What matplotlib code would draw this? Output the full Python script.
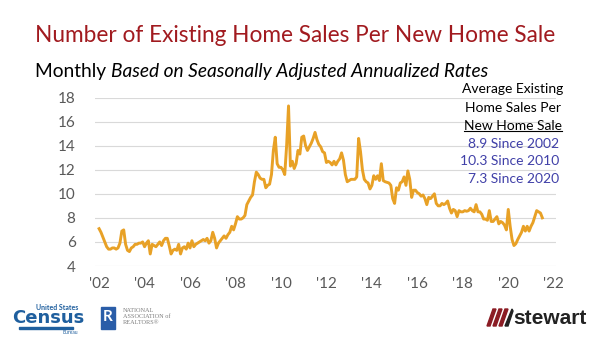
import numpy as np
import matplotlib.pyplot as plt
from matplotlib.patches import Rectangle, Polygon

# ratio of existing home sales to new home sales, monthly from Jan 2002
ratio_2002 = [7.1, 6.8, 6.4, 6.0, 5.6, 5.4, 5.4, 5.5, 5.5, 5.4, 5.5, 5.9]
ratio_2003 = [6.9, 7.0, 5.8, 5.3, 5.2, 5.5, 5.6, 5.8, 5.8, 5.9, 5.9, 6.0]
ratio_2004 = [5.6, 5.9, 6.1, 5.0, 5.8, 5.7, 5.6, 5.8, 6.0, 5.7, 6.1, 6.3]
ratio_2005 = [6.3, 5.7, 5.0, 5.3, 5.4, 5.3, 5.8, 5.0, 5.5, 5.6, 5.4, 5.9]
ratio_2006 = [5.5, 6.1, 5.6, 5.8, 5.9, 6.0, 6.1, 6.2, 6.1, 6.3, 5.9, 6.1]
ratio_2007 = [6.8, 6.3, 5.5, 5.9, 6.1, 6.3, 6.5, 6.3, 6.6, 6.8, 7.3, 7.0]
ratio_2008 = [7.5, 8.1, 7.9, 7.9, 8.0, 8.2, 9.1, 9.4, 9.7, 9.9, 11.0, 11.8]
ratio_2009 = [11.6, 11.3, 11.2, 11.2, 10.5, 10.7, 10.8, 11.6, 13.6, 14.7, 12.5, 12.2]
ratio_2010 = [12.2, 12.0, 11.6, 14.0, 17.3, 12.3, 12.7, 12.1, 12.5, 13.6, 13.3, 14.7]
ratio_2011 = [14.8, 14.0, 13.6, 13.9, 14.2, 14.6, 15.1, 14.5, 14.1, 13.9, 13.5, 13.4]
ratio_2012 = [12.6, 12.7, 12.6, 12.4, 12.7, 12.4, 12.7, 12.9, 13.4, 12.8, 11.6, 11.0]
ratio_2013 = [11.1, 11.2, 11.2, 11.2, 11.4, 14.6, 13.5, 12.0, 11.2, 11.0, 10.9, 10.4]
ratio_2014 = [10.7, 11.5, 11.2, 11.5, 11.1, 12.5, 11.1, 11.0, 10.95, 10.9, 10.7, 9.6]
ratio_2015 = [9.2, 10.5, 10.3, 10.9, 11.0, 11.4, 10.7, 11.9, 11.2, 9.7, 10.3, 10.3]
ratio_2016 = [10.1, 10.0, 9.8, 9.9, 9.6, 9.1, 9.7, 9.6, 9.8, 10.0, 9.2, 9.0]
ratio_2017 = [9.0, 9.2, 9.1, 9.2, 9.4, 8.8, 8.4, 8.7, 8.6, 8.1, 8.6, 8.5]
ratio_2018 = [8.5, 8.6, 8.55, 8.6, 8.8, 8.6, 8.5, 9.1, 8.5, 8.5, 8.3, 7.9]
ratio_2019 = [7.9, 7.8, 8.6, 7.7, 7.7, 7.9, 8.1, 7.5, 7.7, 7.6, 7.4, 7.0]
ratio_2020 = [8.7, 7.3, 6.2, 5.7, 5.85, 6.2, 6.5, 6.8, 7.3, 6.9, 7.3, 6.9]
ratio_2021 = [7.3, 7.6, 8.1, 8.6, 8.5, 8.4, 8.0]

ratio = (ratio_2002 + ratio_2003 + ratio_2004 + ratio_2005 + ratio_2006 + ratio_2007
         + ratio_2008 + ratio_2009 + ratio_2010 + ratio_2011 + ratio_2012 + ratio_2013
         + ratio_2014 + ratio_2015 + ratio_2016 + ratio_2017 + ratio_2018 + ratio_2019
         + ratio_2020 + ratio_2021)
months = 2002 + np.arange(len(ratio)) / 12.0

tick_years = [2002, 2004, 2006, 2008, 2010, 2012, 2014, 2016, 2018, 2020, 2022]
tick_labels = ["'02", "'04", "'06", "'08", "'10", "'12", "'14", "'16", "'18", "'20", "'22"]
y_ticks = [4, 6, 8, 10, 12, 14, 16, 18]

avg_labels = ["8.9 Since 2002", "10.3 Since 2010", "7.3 Since 2020"]

FONT = ['Lato', 'DejaVu Sans']
plt.rcParams['font.family'] = FONT

W, H = 600, 338
fig = plt.figure(figsize=(W / 100, H / 100), dpi=100)
fig.patch.set_facecolor('white')

def px(x, y):
    return x / W, 1 - y / H

# title block
fig.text(*px(35, 36), "Number of Existing Home Sales Per New Home Sale",
         color='#A11A1F', fontsize=16.3, va='center', ha='left')
t = fig.text(*px(35, 72), "Monthly ", color='black', fontsize=13.8, va='center', ha='left')
fig.canvas.draw()
bb = t.get_window_extent()
fig.text(bb.x1 / W, 1 - 72 / H, "Based on Seasonally Adjusted Annualized Rates",
         color='black', fontsize=13.8, style='italic', va='center', ha='left')

# main chart
ax = fig.add_axes([95 / W, 72 / H, (556 - 95) / W, (266 - 97.5) / H])
ax.plot(months, ratio, color='#E8A126', linewidth=2.1, solid_joinstyle='round')
ax.set_xlim(2001.82, 2022.1)
ax.set_ylim(4, 18)
ax.set_yticks(y_ticks)
ax.set_xticks(tick_years)
ax.set_xticklabels(tick_labels)
ax.grid(axis='y', color='#D9D9D9', linewidth=0.8)
ax.set_axisbelow(True)
for s in ax.spines.values():
    s.set_visible(False)
ax.tick_params(length=0, labelsize=11, labelcolor='#595959')
ax.tick_params(axis='y', pad=14)
ax.tick_params(axis='x', pad=8)

# averages box
fig.text(*px(513, 89), "Average Existing", fontsize=10, ha='center', va='center')
fig.text(*px(513, 108), "Home Sales Per", fontsize=10, ha='center', va='center')
u = fig.text(*px(513, 126), "New Home Sale", fontsize=10, ha='center', va='center')
fig.canvas.draw()
ub = u.get_window_extent()
fig.add_artist(plt.Line2D([ub.x0 / W, ub.x1 / W], [ub.y0 / H + 0.004] * 2,
                          color='black', linewidth=0.8))
for i, lab in enumerate(avg_labels):
    fig.text(*px(559, 144 + 17.5 * i), lab, fontsize=10, color='#4040A8',
             ha='right', va='center')

# source marks along the bottom
census_blue = '#1F5F9E'
fig.text(*px(78, 307), "United States", fontsize=5, color=census_blue,
         weight='bold', ha='right', va='center')
fig.text(*px(48, 318), "Census", fontsize=13, color=census_blue, weight='bold',
         ha='center', va='center', family=['Liberation Sans Narrow', 'DejaVu Sans'])
fig.add_artist(Rectangle(px(19, 329), 54 / W, 2 / H, color=census_blue))
fig.text(*px(78, 332), "Bureau", fontsize=3.5, color=census_blue, ha='right', va='center')

fig.add_artist(Rectangle(px(101, 329), 14 / W, 22 / H, color='#2A5DA8'))
fig.text(*px(108, 317), "R", fontsize=11, color='white', weight='bold',
         ha='center', va='center')
nar_lines = ["NATIONAL", "ASSOCIATION of", "REALTORS\u00ae"]
for i, lab in enumerate(nar_lines):
    fig.text(*px(123, 310 + 6 * i), lab, fontsize=4.5, color='#7F7F7F',
             ha='left', va='center', family=['Liberation Serif', 'DejaVu Serif'])

for k in range(3):
    x0 = 487 + k * 6
    fig.add_artist(Polygon([px(x0, 326), px(x0 + 3, 326), px(x0 + 9, 309), px(x0 + 6, 309)],
                           closed=True, color='#8B1C24'))
fig.add_artist(Polygon([px(505, 326), px(508, 326), px(513, 311), px(512, 309)],
                       closed=True, color='#222222'))
fig.text(*px(513, 319), "stewart", fontsize=15, color='#222222', weight='bold',
         ha='left', va='center', family=['Liberation Sans', 'DejaVu Sans'])

fig.savefig('out.png', dpi=100, facecolor='white')
